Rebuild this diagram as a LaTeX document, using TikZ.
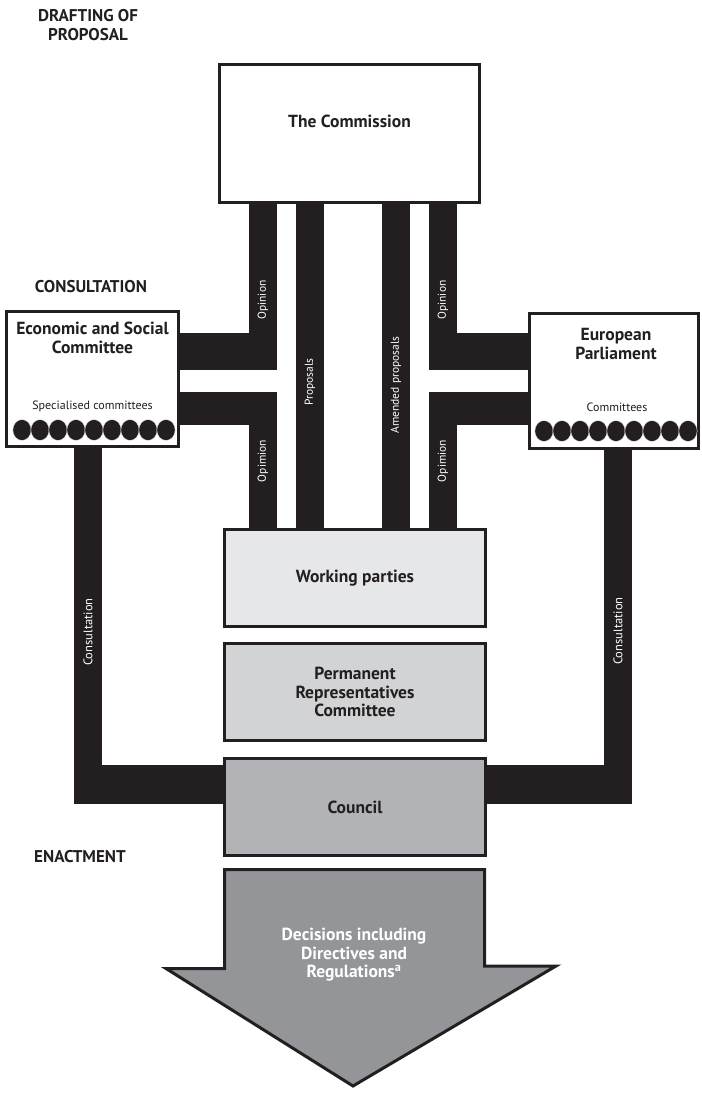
\documentclass[tikz,border=0pt]{standalone}
\usepackage{fontspec}
\setmainfont{PT Sans}
\usetikzlibrary{positioning}

\definecolor{ink}{HTML}{231F20}
\definecolor{wpgrey}{HTML}{E6E7E8}
\definecolor{prcgrey}{HTML}{D1D3D4}
\definecolor{cngrey}{HTML}{B1B3B6}
\definecolor{decgrey}{HTML}{939598}

\begin{document}
\begin{tikzpicture}[x=1pt, y=-1pt,
    box/.style={draw=ink, line width=3pt, minimum width=261pt, minimum height=97pt, inner sep=0pt, align=center, text=ink, font=\fontsize{17.5}{18.5}\selectfont\bfseries},
    title/.style={align=center, text=ink, font=\fontsize{17.5}{18.5}\selectfont\bfseries},
    sublabel/.style={text=ink, font=\fontsize{12}{14}\selectfont},
    heading/.style={align=center, text=ink, font=\fontsize{17}{19}\selectfont\bfseries},
    bar/.style={draw=ink, line width=28pt},
    barlabel/.style={rotate=90, text=white, font=\fontsize{11.5}{13}\selectfont},
    seat/.style={fill=ink, draw=white, line width=0.4pt}]

    \useasboundingbox (0,0) rectangle (701,1094);

    \node[heading] (drafting) at (88,25) {DRAFTING OF\\PROPOSAL};
    \node[heading] (consultation) at (91,287) {CONSULTATION};
    \node[heading] (enactment) at (80,857) {ENACTMENT};

    \node[box, fill=white, minimum width=260pt, minimum height=138pt] (comm) at (349.5,133.5) {};
    \node[title] (commtitle) at (349.5,121) {The Commission};

    \node[box, fill=white, minimum width=172pt, minimum height=135pt] (esc) at (92.5,379) {};
    \node[title] (esctitle) at (92.5,338) {Economic and Social\\Committee};
    \node[sublabel] (escsub) at (92.5,406) {Specialised committees};
    \foreach \i in {0,...,8}
        \path[seat] (22+18*\i,430) ellipse (9.2 and 10.5);

    \node[box, fill=white, minimum width=169pt, minimum height=135pt] (ep) at (614,381) {};
    \node[title] (eptitle) at (616,344) {European\\Parliament};
    \node[sublabel] (epsub) at (617,407) {Committees};
    \foreach \i in {0,...,8}
        \path[seat] (544+18*\i,431) ellipse (9.2 and 10.5);

    \node[box, fill=wpgrey] (wp) at (355,578) {Working parties};
    \node[box, fill=prcgrey, below=14pt of wp] (prc) {Permanent\\Representatives\\Committee};
    \node[box, fill=cngrey, below=15pt of prc] (council) {Council};

    \draw[bar] (comm.south -| 263,0) -- (263,370);
    \draw[bar, line width=37pt] (esc.east |- 0,351.5) -- (277,351.5);
    \draw[bar, line width=33pt] (esc.east |- 0,408.5) -- (277,408.5);
    \draw[bar] (263,392) -- (wp.north -| 263,0);
    \draw[bar] (comm.south -| 310,0) -- (wp.north -| 310,0);
    \draw[bar] (comm.south -| 396,0) -- (wp.north -| 396,0);
    \draw[bar] (comm.south -| 443,0) -- (443,370);
    \draw[bar, line width=37pt] (429,351.5) -- (ep.west |- 0,351.5);
    \draw[bar, line width=33pt] (429,408.5) -- (ep.west |- 0,408.5);
    \draw[bar] (443,392) -- (wp.north -| 443,0);
    \draw[bar] (esc.south -| 88,0) -- (88,804);
    \draw[bar, line width=39pt] (74,784.5) -- (council.west |- 0,784.5);
    \draw[bar] (ep.south -| 618,0) -- (618,804);
    \draw[bar, line width=39pt] (council.east |- 0,784.5) -- (632,784.5);

    \node[barlabel] (opinionul) at (263,300) {Opinion};
    \node[barlabel] (opinionur) at (443,300) {Opinion};
    \node[barlabel] (opimionll) at (263,461) {Opimion};
    \node[barlabel] (opimionlr) at (443,461) {Opimion};
    \node[barlabel] (proposals) at (310,382) {Proposals};
    \node[barlabel] (amended) at (396,385) {Amended proposals};
    \node[barlabel, font=\fontsize{12.5}{14}\selectfont] (consultl) at (88,632) {Consultation};
    \node[barlabel, font=\fontsize{12.5}{14}\selectfont] (consultr) at (618,631) {Consultation};

    \coordinate (decnw) at (224.5,869.5);
    \coordinate (decne) at (484.5,869.5);
    \coordinate (decse) at (484.5,966);
    \coordinate (decwr) at (556,966);
    \coordinate (dectip) at (353,1086);
    \coordinate (decwl) at (166,968.5);
    \coordinate (decsw) at (224.5,968.5);
    \draw[draw=ink, fill=decgrey, line width=3pt] (decnw) -- (decne) -- (decse) -- (decwr) -- (dectip) -- (decwl) -- (decsw) -- cycle;
    \node[title, text=white] (dectext) at (354,955) {Decisions including\\Directives and\\Regulations\textsuperscript{a}};
\end{tikzpicture}
\end{document}
